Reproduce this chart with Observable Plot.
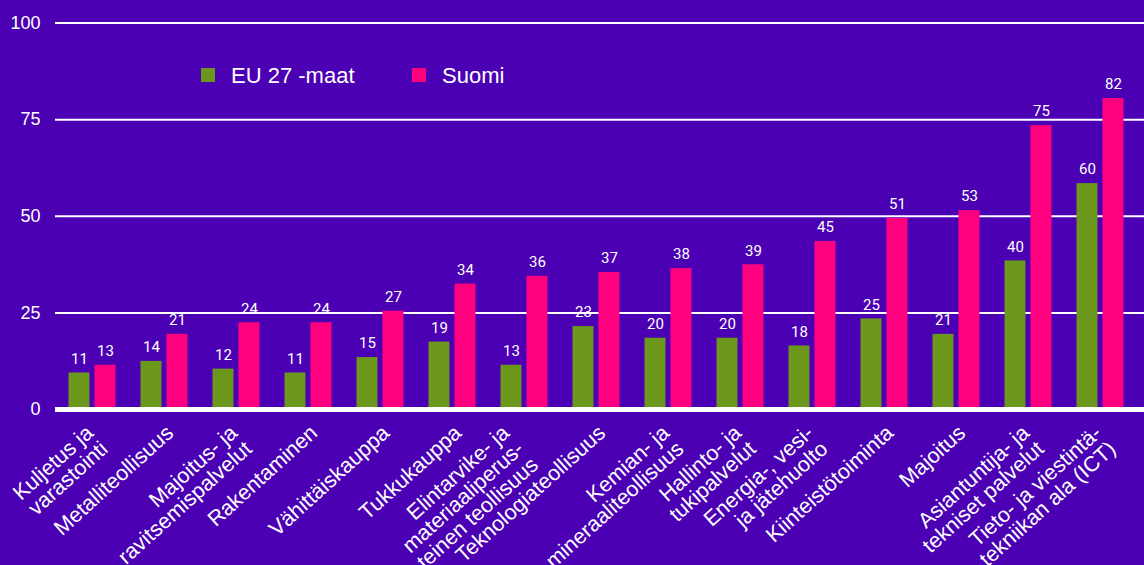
<!DOCTYPE html>
<html>
<head>
<meta charset="utf-8">
<script src="https://cdn.jsdelivr.net/npm/d3@7"></script>
<script src="https://cdn.jsdelivr.net/npm/@observablehq/plot@0.6"></script>
<style>
  html, body { margin: 0; padding: 0; background: #4b00b4; }
  #wrap { position: relative; width: 1144px; height: 565px; overflow: hidden; }
  .sw { position: absolute; width: 14px; height: 14px; }
  .lt { position: absolute; font-family: "Liberation Sans", Arial, sans-serif; font-size: 22px; line-height: 22px; color: #ffffff; white-space: nowrap; }
</style>
</head>
<body>
<div id="wrap"></div>
<script>
const categories = [
  "Kuljetus ja\nvarastointi",
  "Metalliteollisuus",
  "Majoitus- ja\nravitsemispalvelut",
  "Rakentaminen",
  "Vähittäiskauppa",
  "Tukkukauppa",
  "Elintarvike- ja\nmateriaaliperus-\nteinen teollisuus",
  "Teknologiateollisuus",
  "Kemian- ja\nmineraaliteollisuus",
  "Hallinto- ja\ntukipalvelut",
  "Energia-, vesi-\nja jätehuolto",
  "Kiinteistötoiminta",
  "Majoitus",
  "Asiantuntija- ja\ntekniset palvelut",
  "Tieto- ja viestintä-\ntekniikan ala (ICT)"
];
const eu27 = [11, 14, 12, 11, 15, 19, 13, 23, 20, 20, 18, 25, 21, 40, 60];
const suomi = [13, 21, 24, 24, 27, 34, 36, 37, 38, 39, 45, 51, 53, 75, 82];
const seriesNames = ["EU 27 -maat", "Suomi"];
const yTicks = [0, 25, 50, 75, 100];

const GREEN = "#6a971c";
const PINK = "#ff007f";
const BG = "#4b00b4";

const rows = categories.map((c, i) => ({cat: c, eu: eu27[i], fi: suomi[i], lines: c.split("\n").length}));

const barInset = 25.5;
const off = 13;
const labelFont = "Liberation Sans, Arial, sans-serif";

function catLabels(nLines, dx) {
  return Plot.text(rows, {
    filter: d => d.lines === nLines,
    x: "cat", y: () => 0, text: "cat",
    rotate: -42, textAnchor: "end", lineAnchor: "top", lineHeight: 1.0,
    dx, dy: 14, fill: "#ffffff", fontSize: 21.5, fontFamily: labelFont
  });
}

const chart = Plot.plot({
  width: 1144,
  height: 565,
  marginLeft: 55,
  marginRight: 0,
  marginTop: 0,
  marginBottom: 0,
  style: {background: BG, color: "#ffffff", overflow: "visible"},
  x: {domain: categories, range: [55.5, 1136.5], padding: 0, axis: null},
  y: {domain: [0, 100], range: [409, 22.5], axis: null},
  marks: [
    Plot.ruleY(yTicks.filter(t => t > 0), {stroke: "#ffffff", strokeWidth: 2}),
    Plot.axisY({ticks: yTicks, tickSize: 0, tickPadding: 15, fontSize: 18, fontFamily: labelFont, label: null, color: "#ffffff"}),
    Plot.barY(rows, {x: "cat", y1: () => 0, y2: "eu", fill: GREEN, insetLeft: barInset, insetRight: barInset, insetTop: 6, dx: -off}),
    Plot.barY(rows, {x: "cat", y1: () => 0, y2: "fi", fill: PINK, insetLeft: barInset, insetRight: barInset, insetTop: 6, dx: off}),
    Plot.ruleY([0], {stroke: "#ffffff", strokeWidth: 5}),
    Plot.text(rows, {x: "cat", y: "eu", text: d => String(d.eu), dx: -off, dy: -8, fill: "#ffffff", fontSize: 15, fontFamily: "Roboto, sans-serif", lineAnchor: "middle"}),
    Plot.text(rows, {x: "cat", y: "fi", text: d => String(d.fi), dx: off, dy: -8, fill: "#ffffff", fontSize: 15, fontFamily: "Roboto, sans-serif", lineAnchor: "middle"}),
    catLabels(1, 0),
    catLabels(2, -8),
    catLabels(3, -24)
  ]
});

const wrap = document.getElementById("wrap");
wrap.appendChild(chart);

const legendItems = [
  {name: seriesNames[0], color: GREEN, sx: 201, tx: 231},
  {name: seriesNames[1], color: PINK, sx: 412, tx: 442}
];
for (const it of legendItems) {
  const sw = document.createElement("div");
  sw.className = "sw";
  sw.style.left = it.sx + "px";
  sw.style.top = "68px";
  sw.style.background = it.color;
  wrap.appendChild(sw);
  const t = document.createElement("div");
  t.className = "lt";
  t.style.left = it.tx + "px";
  t.style.top = "65px";
  t.textContent = it.name;
  wrap.appendChild(t);
}
</script>
</body>
</html>
